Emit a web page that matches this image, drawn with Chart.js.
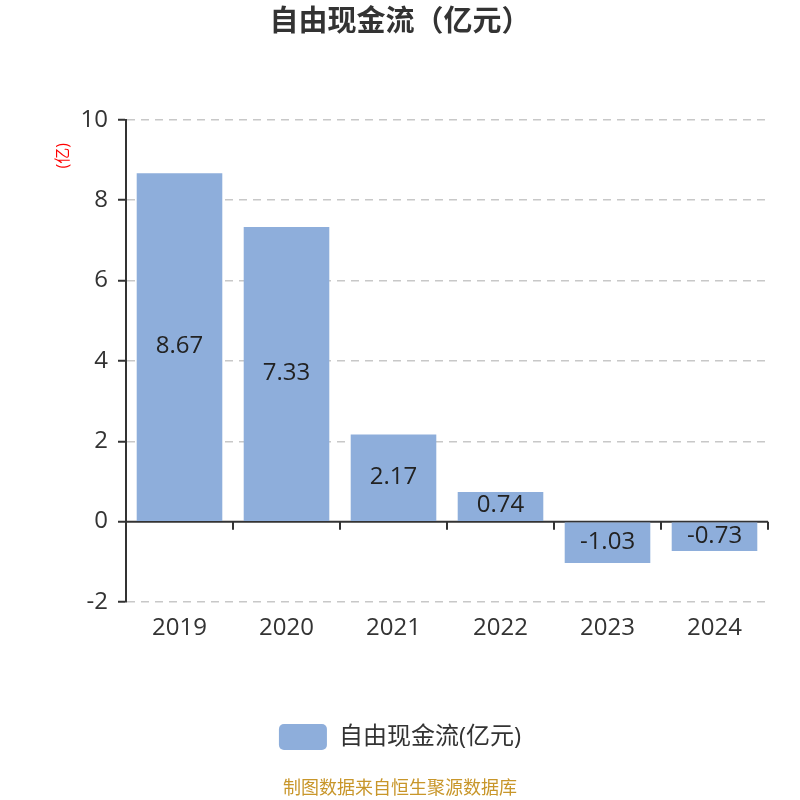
<!DOCTYPE html>
<html>
<head>
<meta charset="utf-8">
<script src="https://cdn.jsdelivr.net/npm/chart.js@4/dist/chart.umd.min.js"></script>
<style>
  html, body { margin: 0; padding: 0; background: #fff; }
  #wrap { width: 800px; height: 800px; }
</style>
</head>
<body>
<div id="wrap"><canvas id="chart" width="800" height="800"></canvas></div>
<script>
const years = ['2019', '2020', '2021', '2022', '2023', '2024'];
const cashFlow = [8.67, 7.33, 2.17, 0.74, -1.03, -0.73];
const seriesName = '自由现金流(亿元)';
const yMin = -2, yMax = 10, yStep = 2;

const FONT = "'Open Sans', 'Noto Sans CJK SC', sans-serif";
const DARK = '#333333';

// zero line, category ticks, red unit label, value labels, footer
const decorations = {
    id: 'decorations',
    beforeDatasetsDraw(chart) {
        const ctx = chart.ctx;
        const x = chart.scales.x, y = chart.scales.y;
        const y0 = y.getPixelForValue(0);
        const area = chart.chartArea;
        ctx.save();
        ctx.strokeStyle = DARK;
        ctx.lineWidth = 2;
        ctx.beginPath();
        ctx.moveTo(area.left, y0);
        ctx.lineTo(area.right, y0);
        for (let i = 1; i <= years.length; i++) {
            const px = Math.round(x.getPixelForValue(i - 0.5));
            ctx.moveTo(px, y0);
            ctx.lineTo(px, y0 + 8);
        }
        ctx.stroke();
        ctx.restore();
    },
    afterDatasetsDraw(chart) {
        const ctx = chart.ctx;
        const meta = chart.getDatasetMeta(0);
        ctx.save();
        ctx.fillStyle = '#222';
        ctx.font = '24px ' + FONT;
        ctx.textAlign = 'center';
        ctx.textBaseline = 'middle';
        meta.data.forEach((bar, i) => {
            ctx.fillText(cashFlow[i].toFixed(2), bar.x, (bar.y + bar.base) / 2 - 1);
        });

        // unit label
        const area = chart.chartArea;
        ctx.translate(area.left - 63, area.top + 36);
        ctx.rotate(-Math.PI / 2);
        ctx.fillStyle = '#ff0000';
        ctx.font = '16px ' + FONT;
        ctx.fillText('(亿)', 0, 0);
        ctx.restore();

        ctx.save();
        ctx.fillStyle = '#c8962a';
        ctx.font = '18px ' + FONT;
        ctx.textAlign = 'center';
        ctx.textBaseline = 'middle';
        ctx.fillText('制图数据来自恒生聚源数据库', chart.width / 2, 789);
        ctx.restore();
    }
};

const cty = document.getElementById('chart').getContext('2d');
const myChart = new Chart(cty, {
    type: 'bar',
    data: {
        labels: years,
        datasets: [{
            label: seriesName,
            data: cashFlow,
            backgroundColor: '#8eaedb',
            borderWidth: 0,
            barPercentage: 0.8,
            categoryPercentage: 1.0
        }]
    },
    options: {
        responsive: false,
        animation: false,
        layout: {
            padding: { left: 0, right: 0, bottom: 40 }
        },
        plugins: {
            title: {
                display: true,
                text: '自由现金流（亿元）',
                color: DARK,
                font: { family: FONT, size: 29, weight: 'bold' },
                padding: { top: 5, bottom: 80 }
            },
            legend: {
                position: 'bottom',
                labels: {
                    color: DARK,
                    font: { family: FONT, size: 24 },
                    boxWidth: 48,
                    boxHeight: 26,
                    useBorderRadius: true,
                    borderRadius: 5,
                    padding: 12
                }
            },
            tooltip: { enabled: false }
        },
        scales: {
            x: {
                afterFit(scale) { scale.height = 110; },
                grid: { display: false },
                border: { display: false },
                ticks: {
                    color: DARK,
                    font: { family: FONT, size: 24 },
                    padding: 4
                }
            },
            y: {
                min: yMin,
                max: yMax,
                afterFit(scale) { scale.width = 126; },
                ticks: {
                    stepSize: yStep,
                    color: DARK,
                    font: { family: FONT, size: 24 },
                    padding: 10
                },
                grid: {
                    color: c => c.tick && c.tick.value === 0 ? 'rgba(0,0,0,0)' : '#c8c8c8',
                    lineWidth: 1.5,
                    tickBorderDash: [],
                    tickColor: DARK,
                    tickWidth: 2,
                    tickLength: 8
                },
                border: { display: true, color: DARK, width: 2, dash: [8, 6] }
            },
            // empty right margin so that title and legend centre on the page
            spacer: {
                type: 'linear',
                position: 'right',
                afterFit(scale) { scale.width = 32; },
                grid: { display: false },
                border: { display: false },
                ticks: { display: false }
            }
        }
    },
    plugins: [decorations]
});
</script>
</body>
</html>
